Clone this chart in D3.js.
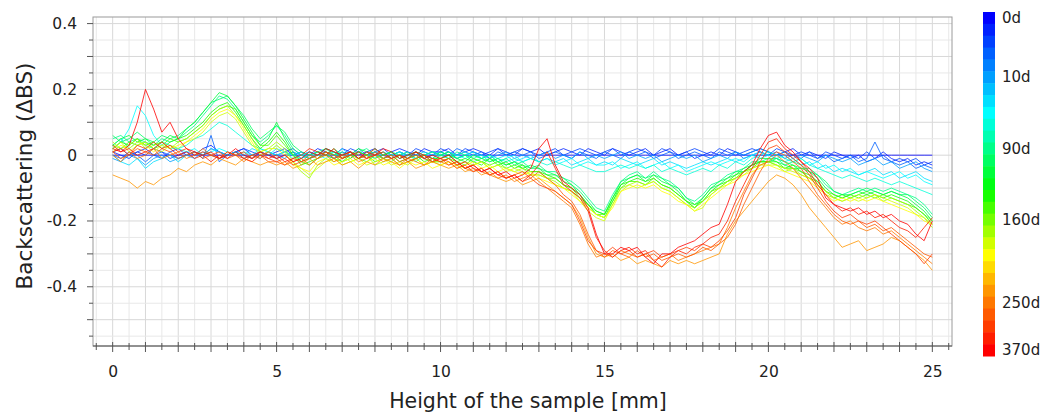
<!DOCTYPE html>
<html>
<head>
<meta charset="utf-8">
<script src="https://cdn.jsdelivr.net/npm/d3@7"></script>
<style>
  body { margin: 0; background: #fff; }
  text { font-family: "DejaVu Sans", Verdana, sans-serif; fill: #222; }
</style>
</head>
<body>
<svg id="chart" width="1048" height="414"></svg>
<script>
// one colour band per measurement
const measurementDays = [0, 1, 2, 4, 7, 10, 14, 21, 30, 45, 60, 90, 100, 110, 120, 130, 145, 160,
  175, 190, 205, 220, 230, 240, 250, 280, 310, 340, 370];
const legendDays = [0, 10, 90, 160, 250, 370];
const xTickLabels = [0, 5, 10, 15, 20, 25];
const yTickLabels = [0.4, 0.2, 0, -0.2, -0.4];
const profileStep = 0.25; // mm between samples, profile goes 0..25 mm

// delta backscattering profiles (every 0.25 mm)
const bs0d = [0,0,0,0,0,0,0,0,0,0,0,0,0,0,0,0,0,0,0,0,0,0,0,0,0,0,0,0,0,0,0,0,0,0,0,0,0,0,0,0,0,0,0,0,0,0,0,0,0,0,
  0,0,0,0,0,0,0,0,0,0,0,0,0,0,0,0,0,0,0,0,0,0,0,0,0,0,0,0,0,0,0,0,0,0,0,0,0,0,0,0,0,0,0,0,0,0,0,0,0,0,0];
const bs1d = [0.01,0.00,-0.01,0.01,0.00,0.02,0.01,-0.01,0.00,0.01,0.00,0.02,0.03,0.01,0.00,0.01,0.02,0.00,0.01,0.00,
  0.01,0.02,0.00,0.01,0.00,0.02,0.01,0.00,0.02,0.01,0.00,0.01,0.02,0.00,0.01,0.02,0.01,0.00,0.02,0.01,
  0.01,0.02,0.00,0.01,0.02,0.01,0.00,0.02,0.01,0.00,0.02,0.01,0.02,0.00,0.01,0.02,0.01,0.00,0.02,0.01,
  0.00,0.02,0.01,0.00,0.01,0.02,0.00,0.01,0.02,0.00,0.01,-0.01,0.00,0.01,0.00,0.02,0.01,0.00,0.01,0.02,
  0.01,0.00,0.01,0.02,0.00,0.01,0.00,-0.01,0.01,0.00,-0.01,0.00,-0.02,-0.01,0.01,-0.01,-0.02,-0.01,-0.03,-0.02,
  -0.03];
const bs2d = [0.01,0.02,0.00,0.01,0.02,0.00,-0.01,0.01,0.02,0.00,0.01,0.00,0.02,0.01,0.00,0.01,0.02,0.01,0.00,0.01,
  0.00,0.01,0.02,0.00,0.01,0.00,0.02,0.01,0.00,0.02,0.01,0.00,0.01,0.02,0.00,0.01,0.00,0.02,0.01,0.00,
  0.02,0.01,0.00,0.02,0.01,0.00,0.01,0.02,0.00,0.01,0.02,0.01,0.00,0.01,0.02,0.00,0.01,0.02,0.01,0.00,
  0.01,0.02,0.00,0.01,0.02,0.01,0.00,0.02,0.01,0.00,0.01,0.02,0.01,0.00,0.02,0.01,0.00,0.01,0.02,0.01,
  0.00,0.02,0.01,0.00,0.01,0.00,-0.01,0.01,0.00,-0.01,0.00,-0.01,0.01,-0.01,0.00,-0.02,-0.01,-0.02,-0.01,-0.03,
  -0.02];
const bs4d = [0.00,-0.01,0.01,0.00,-0.02,0.00,0.01,0.00,-0.01,0.00,0.01,-0.01,0.06,-0.02,0.00,0.01,0.00,-0.01,0.01,0.00,
  -0.01,0.00,0.01,-0.01,0.00,0.01,0.00,-0.01,0.01,0.00,0.02,0.00,0.01,-0.01,0.00,0.01,0.00,0.01,-0.01,0.00,
  0.01,0.00,0.02,0.01,0.00,0.01,-0.01,0.01,0.00,0.01,0.00,0.01,-0.01,0.00,0.01,0.00,-0.01,0.01,0.00,-0.01,
  0.01,0.00,-0.01,0.01,0.00,0.01,-0.01,0.00,0.01,-0.01,0.00,0.01,0.00,-0.01,0.01,0.00,0.01,-0.01,0.00,0.01,
  0.00,0.01,-0.01,0.00,-0.01,0.01,-0.01,0.00,-0.02,-0.01,0.00,-0.02,-0.01,0.04,-0.01,-0.02,-0.03,-0.02,-0.04,-0.03,
  -0.04];
const bs10d = [-0.01,-0.02,0.00,-0.01,-0.03,-0.01,0.00,-0.02,-0.01,0.00,-0.01,0.01,0.00,-0.01,0.00,0.01,-0.01,0.00,-0.01,0.01,
  0.00,-0.01,0.01,0.00,-0.01,0.00,0.01,-0.01,0.00,0.01,-0.01,0.00,0.01,0.00,-0.01,0.00,0.01,-0.01,0.00,0.01,
  0.00,0.01,-0.01,0.00,0.01,0.00,-0.01,0.00,0.01,-0.01,0.00,-0.01,0.00,0.01,-0.01,0.00,-0.01,0.01,-0.01,0.00,
  -0.01,0.00,0.01,-0.01,0.00,-0.01,0.00,-0.02,-0.01,0.00,-0.01,0.00,-0.02,-0.01,0.00,-0.01,0.01,0.00,0.01,0.02,
  0.01,0.00,0.01,-0.01,0.00,-0.01,-0.02,0.00,-0.01,-0.02,-0.01,-0.03,-0.02,-0.01,-0.03,-0.02,-0.04,-0.03,-0.02,-0.04,
  -0.05];
const bs21d = [0.00,-0.02,-0.03,-0.01,-0.04,-0.02,-0.01,0.00,-0.02,0.00,0.01,0.00,0.02,0.01,0.00,0.01,0.00,0.02,0.01,0.00,
  0.02,0.01,0.00,0.01,-0.01,0.00,0.01,0.00,0.02,0.00,0.01,0.00,-0.01,0.01,0.00,0.01,-0.01,0.00,0.01,0.00,
  0.01,0.00,-0.01,0.00,0.01,-0.01,0.00,-0.01,0.00,-0.02,-0.01,0.00,-0.02,-0.01,-0.02,-0.01,-0.03,-0.02,-0.01,-0.03,
  -0.02,-0.03,-0.01,-0.02,-0.03,-0.02,-0.01,-0.03,-0.02,-0.03,-0.04,-0.03,-0.02,-0.03,-0.02,-0.01,-0.02,-0.01,0.00,-0.01,
  0.00,-0.01,-0.02,-0.01,-0.03,-0.02,-0.04,-0.03,-0.05,-0.04,-0.05,-0.06,-0.05,-0.04,-0.06,-0.05,-0.07,-0.06,-0.05,-0.07,
  -0.08];
const bs30d = [0.02,0.04,0.08,0.15,0.12,0.06,0.03,0.02,0.02,0.01,0.02,0.00,0.01,0.02,0.01,0.00,0.01,0.00,0.02,0.01,
  0.00,0.01,-0.01,0.00,0.01,0.00,-0.01,0.01,0.00,0.01,0.00,-0.01,0.01,0.00,0.01,-0.01,0.00,0.01,0.00,-0.01,
  0.00,0.01,0.00,-0.01,0.00,-0.01,0.00,-0.02,-0.01,0.00,-0.02,-0.01,-0.02,-0.01,-0.03,-0.02,-0.01,-0.03,-0.02,-0.03,
  -0.03,-0.02,-0.04,-0.03,-0.02,-0.04,-0.03,-0.02,-0.04,-0.03,-0.05,-0.04,-0.03,-0.02,-0.03,-0.02,-0.01,-0.02,0.00,0.01,
  0.00,-0.01,0.00,-0.02,-0.01,-0.03,-0.02,-0.04,-0.03,-0.05,-0.04,-0.06,-0.05,-0.06,-0.07,-0.06,-0.05,-0.07,-0.06,-0.08,
  -0.09];
const bs45d = [0.03,0.05,0.02,0.04,0.03,0.02,0.04,0.03,0.02,0.03,0.05,0.06,0.08,0.10,0.09,0.07,0.05,0.03,0.02,0.01,
  0.03,0.01,0.00,-0.01,0.00,0.01,0.00,0.01,-0.01,0.00,0.01,0.00,0.01,-0.01,0.00,0.01,0.00,-0.01,0.00,0.01,
  0.00,-0.01,0.00,0.01,-0.01,0.00,-0.02,-0.01,-0.02,-0.01,-0.02,-0.01,-0.02,-0.03,-0.02,-0.03,-0.04,-0.03,-0.04,-0.05,
  -0.05,-0.04,-0.03,-0.04,-0.03,-0.04,-0.03,-0.05,-0.04,-0.05,-0.06,-0.05,-0.04,-0.05,-0.03,-0.04,-0.02,-0.03,-0.01,0.00,
  0.01,0.00,-0.01,-0.02,-0.01,-0.03,-0.04,-0.05,-0.06,-0.07,-0.06,-0.07,-0.08,-0.07,-0.08,-0.09,-0.08,-0.09,-0.10,-0.11,
  -0.12];
const bs90d = [0.05,0.06,0.04,0.05,0.04,0.03,0.05,0.04,0.05,0.07,0.09,0.12,0.15,0.18,0.17,0.14,0.10,0.06,0.04,0.06,
  0.09,0.06,0.02,0.00,-0.01,0.01,0.02,0.00,0.01,-0.01,0.01,0.02,0.00,0.01,-0.01,0.00,0.01,-0.02,0.00,0.01,
  0.00,-0.01,0.01,0.00,-0.02,-0.01,0.00,-0.02,-0.01,-0.03,-0.02,-0.04,-0.03,-0.05,-0.05,-0.07,-0.08,-0.10,-0.13,-0.16,
  -0.17,-0.12,-0.08,-0.06,-0.05,-0.07,-0.05,-0.07,-0.08,-0.10,-0.13,-0.14,-0.12,-0.09,-0.08,-0.06,-0.05,-0.04,-0.02,-0.02,
  -0.01,-0.01,-0.03,-0.02,-0.03,-0.05,-0.06,-0.09,-0.11,-0.12,-0.11,-0.10,-0.11,-0.10,-0.11,-0.10,-0.11,-0.12,-0.13,-0.15,
  -0.18];
const bs100d = [0.06,0.04,0.05,0.07,0.05,0.04,0.06,0.05,0.06,0.08,0.10,0.13,0.16,0.17,0.18,0.15,0.12,0.08,0.05,0.07,
  0.09,0.07,0.03,0.01,0.00,0.01,0.00,0.02,0.00,0.01,-0.01,0.00,0.02,0.00,0.01,0.00,-0.01,0.01,0.00,-0.01,
  0.01,0.00,-0.01,0.00,-0.01,-0.02,-0.01,-0.02,-0.03,-0.02,-0.03,-0.04,-0.04,-0.05,-0.06,-0.07,-0.09,-0.11,-0.14,-0.17,
  -0.18,-0.13,-0.08,-0.07,-0.06,-0.07,-0.06,-0.07,-0.09,-0.10,-0.13,-0.15,-0.13,-0.10,-0.09,-0.07,-0.05,-0.05,-0.03,-0.02,
  -0.02,-0.01,-0.02,-0.03,-0.04,-0.04,-0.06,-0.08,-0.11,-0.12,-0.12,-0.11,-0.10,-0.11,-0.12,-0.11,-0.12,-0.12,-0.14,-0.16,
  -0.19];
const bs110d = [0.03,0.05,0.06,0.04,0.05,0.03,0.04,0.06,0.05,0.08,0.10,0.13,0.16,0.19,0.18,0.15,0.11,0.07,0.03,0.05,
  0.10,0.05,0.01,-0.02,-0.01,0.00,0.02,0.01,-0.01,0.00,0.02,0.01,-0.01,0.00,0.01,-0.01,0.00,0.01,-0.01,-0.02,
  0.00,0.01,-0.01,-0.02,0.00,-0.01,-0.02,-0.01,-0.03,-0.02,-0.04,-0.03,-0.04,-0.06,-0.06,-0.08,-0.09,-0.12,-0.15,-0.18,
  -0.19,-0.14,-0.09,-0.07,-0.06,-0.08,-0.06,-0.08,-0.09,-0.11,-0.14,-0.16,-0.13,-0.10,-0.08,-0.07,-0.06,-0.04,-0.03,-0.01,
  -0.01,-0.02,-0.03,-0.04,-0.04,-0.05,-0.07,-0.10,-0.12,-0.13,-0.12,-0.11,-0.12,-0.11,-0.12,-0.11,-0.12,-0.13,-0.15,-0.17,
  -0.20];
const bs130d = [0.02,0.04,0.03,0.05,0.03,0.04,0.02,0.04,0.05,0.06,0.08,0.10,0.13,0.15,0.16,0.13,0.09,0.05,0.02,0.04,
  0.07,0.04,0.00,-0.03,-0.02,-0.01,0.01,0.00,-0.02,-0.01,0.01,0.00,-0.02,-0.01,0.00,-0.02,-0.01,0.00,-0.02,-0.01,
  -0.01,0.00,-0.02,-0.01,-0.02,-0.03,-0.01,-0.03,-0.02,-0.04,-0.03,-0.05,-0.05,-0.06,-0.07,-0.09,-0.10,-0.12,-0.15,-0.17,
  -0.18,-0.13,-0.09,-0.08,-0.07,-0.08,-0.07,-0.09,-0.10,-0.12,-0.14,-0.15,-0.14,-0.11,-0.09,-0.08,-0.06,-0.05,-0.03,-0.02,
  -0.02,-0.02,-0.04,-0.03,-0.05,-0.06,-0.08,-0.11,-0.13,-0.12,-0.13,-0.12,-0.11,-0.12,-0.13,-0.12,-0.13,-0.14,-0.16,-0.18,
  -0.21];
const bs145d = [0.03,0.02,0.04,0.03,0.04,0.02,0.03,0.05,0.04,0.05,0.07,0.09,0.12,0.14,0.15,0.14,0.10,0.06,0.03,0.03,
  0.06,0.03,0.00,-0.02,-0.03,-0.01,0.00,-0.01,-0.02,0.00,-0.01,-0.02,0.00,-0.01,-0.02,0.00,-0.02,-0.01,0.00,-0.02,
  -0.02,-0.01,-0.02,-0.03,-0.01,-0.02,-0.03,-0.02,-0.04,-0.03,-0.04,-0.05,-0.05,-0.07,-0.07,-0.09,-0.10,-0.13,-0.15,-0.18,
  -0.18,-0.14,-0.10,-0.08,-0.08,-0.09,-0.07,-0.09,-0.10,-0.12,-0.14,-0.16,-0.14,-0.11,-0.10,-0.08,-0.07,-0.05,-0.04,-0.02,
  -0.02,-0.03,-0.04,-0.04,-0.05,-0.07,-0.08,-0.11,-0.12,-0.13,-0.12,-0.13,-0.12,-0.13,-0.12,-0.13,-0.14,-0.15,-0.16,-0.18,
  -0.20];
const bs175d = [0.04,0.02,0.03,0.05,0.02,0.03,0.04,0.02,0.04,0.05,0.07,0.09,0.12,0.14,0.15,0.12,0.09,0.05,0.01,0.02,
  0.04,0.02,-0.02,-0.05,-0.07,-0.03,-0.01,-0.02,0.00,-0.02,-0.01,0.00,-0.03,-0.02,-0.01,-0.03,-0.02,-0.01,-0.03,-0.02,
  -0.02,-0.01,-0.03,-0.02,-0.03,-0.02,-0.04,-0.03,-0.04,-0.05,-0.04,-0.06,-0.06,-0.07,-0.08,-0.10,-0.11,-0.13,-0.16,-0.18,
  -0.19,-0.15,-0.10,-0.09,-0.08,-0.09,-0.08,-0.10,-0.11,-0.13,-0.15,-0.16,-0.14,-0.12,-0.10,-0.08,-0.07,-0.05,-0.04,-0.03,
  -0.02,-0.03,-0.05,-0.04,-0.06,-0.07,-0.09,-0.12,-0.13,-0.14,-0.13,-0.12,-0.13,-0.12,-0.14,-0.13,-0.14,-0.15,-0.17,-0.19,
  -0.22];
const bs190d = [0.02,0.04,0.01,0.03,0.04,0.02,0.01,0.03,0.02,0.04,0.05,0.07,0.10,0.12,0.13,0.11,0.07,0.03,0.01,0.02,
  0.02,0.00,-0.02,-0.04,-0.06,-0.04,-0.02,-0.01,-0.03,-0.02,-0.01,-0.03,-0.02,-0.01,-0.03,-0.02,-0.03,-0.01,-0.03,-0.02,
  -0.03,-0.02,-0.03,-0.04,-0.03,-0.02,-0.04,-0.03,-0.05,-0.04,-0.05,-0.06,-0.06,-0.07,-0.09,-0.10,-0.11,-0.14,-0.17,-0.19,
  -0.20,-0.15,-0.11,-0.09,-0.10,-0.09,-0.08,-0.10,-0.11,-0.13,-0.15,-0.17,-0.16,-0.12,-0.10,-0.09,-0.07,-0.06,-0.04,-0.03,
  -0.03,-0.03,-0.04,-0.05,-0.06,-0.07,-0.09,-0.11,-0.13,-0.14,-0.13,-0.14,-0.13,-0.12,-0.13,-0.14,-0.15,-0.16,-0.18,-0.19,
  -0.21];
const bs205d = [0.01,0.03,0.02,0.04,0.03,0.01,0.03,0.02,0.03,0.04,0.06,0.08,0.11,0.13,0.14,0.12,0.08,0.04,0.00,0.01,
  0.03,0.01,-0.03,-0.04,-0.05,-0.02,-0.01,-0.03,-0.02,-0.01,-0.03,-0.02,-0.01,-0.03,-0.02,-0.04,-0.02,-0.03,-0.02,-0.04,
  -0.03,-0.02,-0.04,-0.03,-0.02,-0.04,-0.03,-0.05,-0.04,-0.05,-0.06,-0.05,-0.07,-0.08,-0.09,-0.10,-0.12,-0.14,-0.16,-0.18,
  -0.19,-0.16,-0.11,-0.10,-0.09,-0.10,-0.09,-0.11,-0.12,-0.14,-0.15,-0.17,-0.15,-0.13,-0.11,-0.09,-0.08,-0.06,-0.05,-0.04,
  -0.03,-0.04,-0.05,-0.06,-0.07,-0.08,-0.10,-0.12,-0.14,-0.13,-0.14,-0.13,-0.14,-0.13,-0.14,-0.15,-0.16,-0.17,-0.18,-0.20,
  -0.21];
const bs240d = [-0.06,-0.07,-0.08,-0.10,-0.08,-0.09,-0.07,-0.06,-0.04,-0.05,-0.03,-0.02,-0.03,-0.01,-0.02,-0.03,-0.01,-0.02,-0.03,-0.02,
  -0.03,-0.02,-0.04,-0.03,-0.01,-0.03,-0.02,-0.01,-0.03,-0.02,-0.04,-0.02,-0.03,-0.01,-0.02,-0.03,-0.02,-0.04,-0.03,-0.02,
  -0.03,-0.04,-0.03,-0.05,-0.04,-0.06,-0.05,-0.07,-0.08,-0.07,-0.09,-0.08,-0.07,-0.09,-0.11,-0.13,-0.15,-0.19,-0.25,-0.30,
  -0.31,-0.30,-0.32,-0.31,-0.33,-0.32,-0.33,-0.34,-0.32,-0.33,-0.32,-0.33,-0.32,-0.31,-0.30,-0.24,-0.20,-0.17,-0.14,-0.11,
  -0.08,-0.06,-0.07,-0.09,-0.12,-0.16,-0.19,-0.22,-0.25,-0.28,-0.27,-0.26,-0.29,-0.28,-0.27,-0.25,-0.26,-0.28,-0.30,-0.32,
  -0.35];
const bs250d = [0.00,-0.02,0.01,-0.01,0.00,0.02,-0.01,0.00,0.01,-0.01,0.00,0.02,0.00,-0.01,0.01,0.00,-0.02,0.00,-0.01,0.01,
  -0.01,-0.03,-0.02,-0.01,-0.03,-0.01,0.00,-0.02,-0.01,0.00,-0.02,-0.01,0.00,-0.02,-0.01,-0.03,-0.01,-0.02,-0.03,-0.01,
  -0.02,-0.03,-0.02,-0.04,-0.05,-0.04,-0.06,-0.07,-0.06,-0.08,-0.07,-0.06,-0.08,-0.10,-0.12,-0.14,-0.16,-0.21,-0.27,-0.31,
  -0.30,-0.31,-0.29,-0.30,-0.31,-0.30,-0.32,-0.31,-0.30,-0.32,-0.31,-0.30,-0.29,-0.28,-0.27,-0.22,-0.16,-0.11,-0.06,-0.03,
  -0.02,0.00,-0.02,-0.04,-0.07,-0.10,-0.13,-0.16,-0.19,-0.21,-0.20,-0.22,-0.23,-0.22,-0.24,-0.23,-0.25,-0.27,-0.29,-0.31,
  -0.33];
const bs280d = [0.01,-0.01,0.00,0.02,0.01,0.00,0.02,0.01,-0.01,0.00,0.01,-0.01,0.00,0.01,-0.01,0.00,0.01,-0.01,0.00,-0.02,
  -0.02,-0.03,-0.01,-0.02,0.00,-0.01,0.01,0.00,-0.01,0.01,0.00,-0.01,0.01,-0.01,0.00,-0.02,-0.01,0.00,-0.01,-0.02,
  -0.01,-0.03,-0.02,-0.04,-0.03,-0.05,-0.06,-0.05,-0.07,-0.06,-0.08,-0.07,-0.05,-0.07,-0.09,-0.12,-0.14,-0.18,-0.24,-0.29,
  -0.31,-0.29,-0.30,-0.31,-0.29,-0.31,-0.30,-0.32,-0.31,-0.30,-0.31,-0.30,-0.28,-0.29,-0.27,-0.25,-0.21,-0.15,-0.10,-0.05,
  -0.01,0.01,0.00,-0.02,-0.04,-0.08,-0.12,-0.15,-0.18,-0.20,-0.21,-0.20,-0.22,-0.21,-0.23,-0.22,-0.24,-0.26,-0.28,-0.30,
  -0.31];
const bs310d = [0.01,0.02,0.00,0.03,0.02,0.04,0.02,0.03,0.01,0.02,0.00,0.01,0.00,-0.01,0.01,0.00,-0.01,0.00,0.01,-0.01,
  -0.02,-0.01,-0.03,-0.02,-0.01,0.00,0.01,-0.01,0.00,0.01,-0.01,0.00,0.02,0.00,-0.01,0.00,-0.02,-0.01,0.00,-0.02,
  -0.01,-0.02,-0.04,-0.03,-0.05,-0.04,-0.06,-0.05,-0.07,-0.06,-0.05,-0.07,-0.09,-0.10,-0.11,-0.13,-0.15,-0.20,-0.26,-0.29,
  -0.30,-0.28,-0.30,-0.29,-0.31,-0.30,-0.29,-0.31,-0.30,-0.29,-0.28,-0.29,-0.27,-0.28,-0.26,-0.23,-0.19,-0.12,-0.07,-0.02,
  0.02,0.03,0.01,-0.01,-0.03,-0.06,-0.10,-0.14,-0.17,-0.19,-0.18,-0.20,-0.21,-0.20,-0.22,-0.24,-0.26,-0.28,-0.30,-0.33,
  -0.30];
const bs340d = [0.03,0.01,0.02,0.00,0.01,0.02,0.04,0.02,0.00,0.01,-0.01,0.00,-0.02,0.00,-0.01,0.01,-0.01,-0.02,0.00,-0.01,
  0.00,-0.02,-0.01,0.00,0.02,0.01,0.00,0.02,-0.01,0.00,0.01,-0.01,0.00,0.01,-0.01,0.00,-0.01,0.01,0.00,-0.01,
  -0.02,-0.01,-0.03,-0.02,-0.04,-0.05,-0.04,-0.06,-0.07,-0.06,-0.08,-0.06,-0.03,0.01,-0.04,-0.09,-0.11,-0.13,-0.17,-0.25,
  -0.29,-0.31,-0.29,-0.28,-0.30,-0.29,-0.32,-0.34,-0.31,-0.29,-0.30,-0.28,-0.27,-0.25,-0.24,-0.20,-0.14,-0.09,-0.04,0.00,
  0.04,0.05,0.02,0.00,-0.02,-0.05,-0.09,-0.12,-0.15,-0.17,-0.16,-0.18,-0.17,-0.19,-0.18,-0.20,-0.22,-0.23,-0.25,-0.22,
  -0.19];
const bs370d = [0.02,0.01,0.03,0.10,0.20,0.14,0.07,0.10,0.05,0.02,0.01,0.00,0.01,-0.01,0.00,0.02,0.00,-0.01,0.01,0.00,
  -0.01,0.00,-0.02,-0.01,0.01,0.00,0.02,0.01,0.00,0.01,-0.01,0.01,0.00,0.02,0.01,-0.01,0.00,0.01,-0.01,0.00,
  -0.01,0.00,-0.02,-0.04,-0.03,-0.05,-0.04,-0.06,-0.05,-0.07,-0.06,-0.04,0.02,0.05,-0.03,-0.08,-0.10,-0.12,-0.16,-0.24,
  -0.30,-0.30,-0.28,-0.29,-0.28,-0.31,-0.33,-0.30,-0.30,-0.28,-0.27,-0.26,-0.24,-0.22,-0.21,-0.15,-0.08,-0.05,-0.03,0.02,
  0.06,0.07,0.03,0.01,-0.02,-0.04,-0.07,-0.13,-0.15,-0.16,-0.17,-0.16,-0.18,-0.17,-0.19,-0.18,-0.20,-0.21,-0.24,-0.26,
  -0.20];

const seriesDays = [0, 1, 2, 4, 10, 21, 30, 45, 90, 100, 110, 130, 145, 175, 190, 205, 240, 250, 280, 310, 340, 370];
const seriesValues = [bs0d, bs1d, bs2d, bs4d, bs10d, bs21d, bs30d, bs45d, bs90d, bs100d, bs110d, bs130d,
  bs145d, bs175d, bs190d, bs205d, bs240d, bs250d, bs280d, bs310d, bs340d, bs370d];

const svg = d3.select("#chart");
const plot = { left: 93, right: 952, top: 17, bottom: 346 };

const x = d3.scaleLinear().domain([-0.6, 25.6]).range([plot.left, plot.right]);
const y = d3.scaleLinear().domain([-0.58, 0.42]).range([plot.bottom, plot.top]);

// jet-like colours indexed by measurement number
const colour = d3.scaleLinear()
  .domain([0, 8, 14.5, 20, 22.5, 28])
  .range(["#0000ff", "#00ffff", "#00ff00", "#ffff00", "#ffa500", "#ff0000"]);
const colourOf = day => colour(measurementDays.indexOf(day));

// grid
const xGrid = d3.range(-0.5, 25.51, 0.5);
const yGrid = d3.range(-0.55, 0.401, 0.05);
const isWhole = d => Math.abs(d - Math.round(d)) < 1e-6;
const isTenth = d => Math.abs(d * 10 - Math.round(d * 10)) < 1e-6;
const grid = svg.append("g");
grid.selectAll("line.vx").data(xGrid).join("line")
  .attr("x1", d => x(d)).attr("x2", d => x(d))
  .attr("y1", plot.top).attr("y2", plot.bottom)
  .attr("stroke", d => isWhole(d) ? "#d8d8d8" : "#e8e8e8");
grid.selectAll("line.hy").data(yGrid).join("line")
  .attr("x1", plot.left).attr("x2", plot.right)
  .attr("y1", d => y(d)).attr("y2", d => y(d))
  .attr("stroke", d => isTenth(d) ? "#d8d8d8" : "#e8e8e8");

// curves
svg.append("clipPath").attr("id", "clip").append("rect")
  .attr("x", plot.left).attr("y", plot.top)
  .attr("width", plot.right - plot.left).attr("height", plot.bottom - plot.top);

const line = d3.line()
  .x((d, i) => x(i * profileStep))
  .y(d => y(d));

svg.append("g").attr("clip-path", "url(#clip)")
  .selectAll("path").data(seriesValues).join("path")
  .attr("d", line)
  .attr("fill", "none")
  .attr("stroke", (d, i) => colourOf(seriesDays[i]))
  .attr("stroke-width", 1)
  .attr("stroke-opacity", 0.8);

// frame
svg.append("rect")
  .attr("x", plot.left).attr("y", plot.top)
  .attr("width", plot.right - plot.left).attr("height", plot.bottom - plot.top)
  .attr("fill", "none").attr("stroke", "#9a9a9a");

// y axis
const yAxis = svg.append("g").attr("transform", `translate(${plot.left},0)`);
yAxis.selectAll("line").data(yGrid).join("line")
  .attr("x1", d => isTenth(d) ? -6 : -4).attr("x2", 0)
  .attr("y1", d => y(d)).attr("y2", d => y(d))
  .attr("stroke", "#555");
yAxis.call(d3.axisLeft(y).tickValues(yTickLabels).tickSize(0).tickPadding(16)
  .tickFormat(d => d === 0 ? "0" : d.toFixed(1)));
yAxis.select(".domain").remove();
yAxis.selectAll("text").style("font-size", "15.5px").attr("font-family", null);

// x axis
const xAxis = svg.append("g").attr("transform", `translate(0,${plot.bottom})`);
xAxis.append("line").attr("x1", plot.left).attr("x2", plot.right).attr("stroke", "#555");
xAxis.selectAll("line.t").data(xGrid).join("line").attr("class", "t")
  .attr("x1", d => x(d)).attr("x2", d => x(d))
  .attr("y1", d => isWhole(d) ? -4 : -3)
  .attr("y2", d => isWhole(d) ? 6 : 4)
  .attr("stroke", "#555");
const xLab = svg.append("g").attr("transform", `translate(0,${plot.bottom})`)
  .call(d3.axisBottom(x).tickValues(xTickLabels).tickSize(0).tickPadding(20).tickFormat(d3.format("d")));
xLab.select(".domain").remove();
xLab.selectAll("text").style("font-size", "15.5px").attr("font-family", null);

// axis titles
svg.append("text")
  .attr("x", 528).attr("y", 408)
  .attr("text-anchor", "middle")
  .style("font-size", "20.5px")
  .text("Height of the sample [mm]");
svg.append("text")
  .attr("transform", "translate(32,176) rotate(-90)")
  .attr("text-anchor", "middle")
  .style("font-size", "21.5px")
  .text("Backscattering (ΔBS)");

// colour bar
const band = d3.scaleBand().domain(measurementDays).range([12, 356]);
const bar = svg.append("g");
bar.selectAll("rect").data(measurementDays).join("rect")
  .attr("x", 983).attr("width", 12)
  .attr("y", d => band(d)).attr("height", band.bandwidth() + 0.5)
  .attr("fill", d => colourOf(d));
bar.selectAll("text").data(legendDays).join("text")
  .attr("x", 1002)
  .attr("y", d => band(d) + band.bandwidth() / 2)
  .attr("dy", "0.35em")
  .style("font-size", "15px")
  .text(d => d + "d");
</script>
</body>
